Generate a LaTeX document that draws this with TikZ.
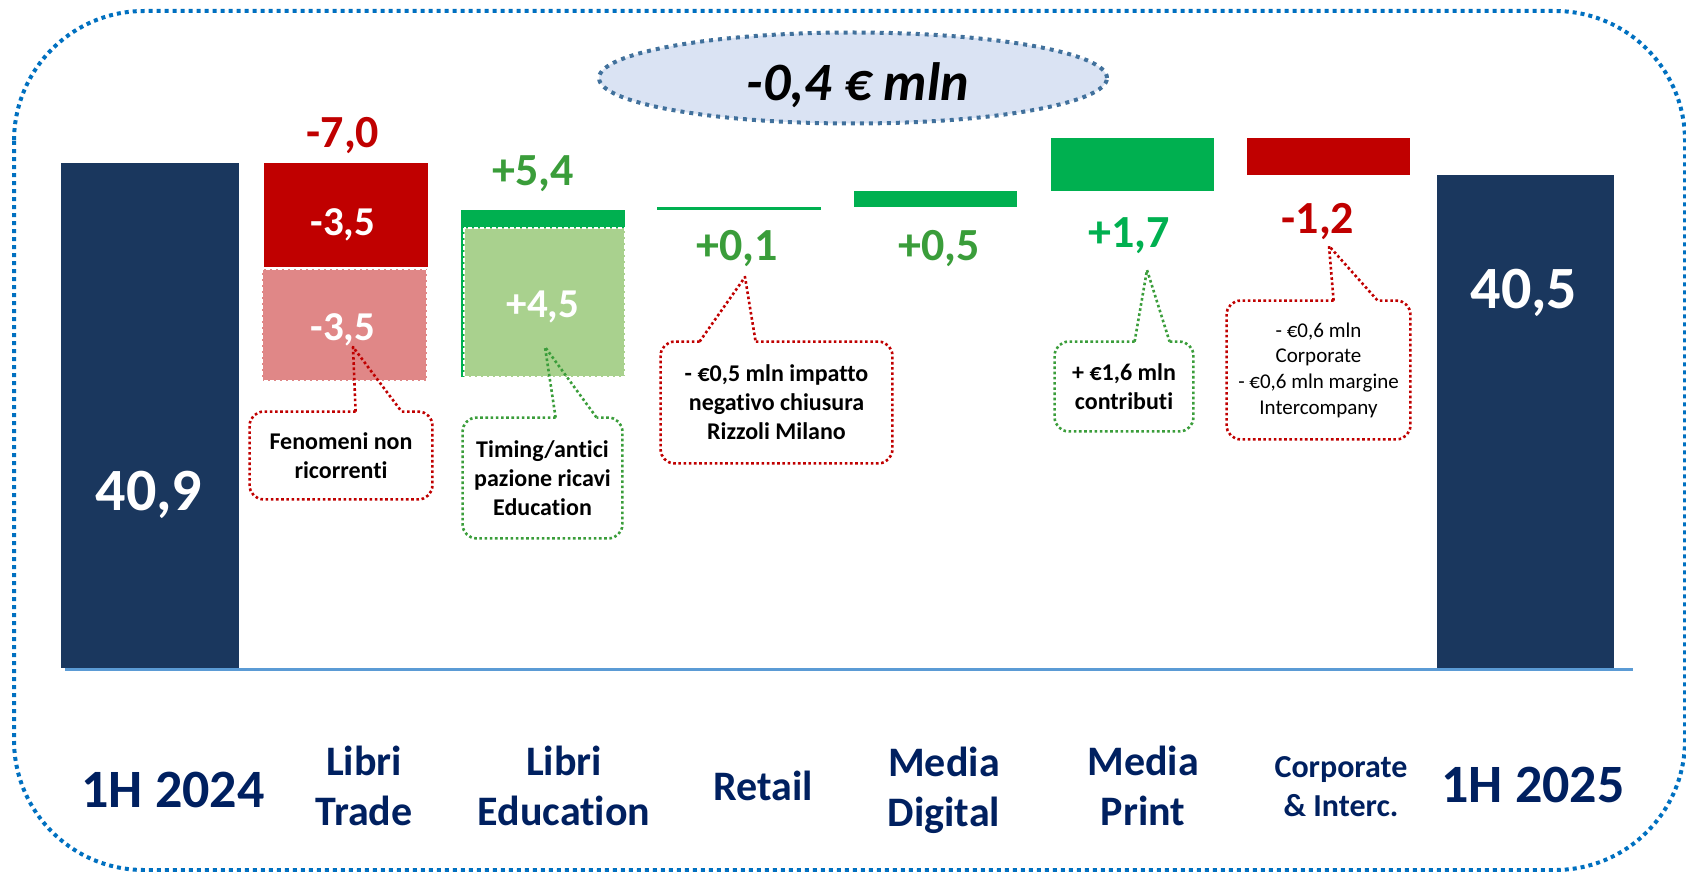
\documentclass[tikz,border=0pt]{standalone}
\usepackage{fontspec}
\setmainfont{Carlito}[Ligatures=NoCommon]
\usetikzlibrary{calc,shapes.geometric}
\definecolor{navy}{HTML}{1A375E}
\definecolor{rosso}{HTML}{C00000}
\definecolor{rosa}{HTML}{E08787}
\definecolor{verde}{HTML}{00B050}
\definecolor{verdechiaro}{HTML}{A9D18E}
\definecolor{verdetesto}{HTML}{3A9D3A}
\definecolor{blu}{HTML}{0070C0}
\definecolor{asse}{HTML}{5B9BD5}
\definecolor{ellbordo}{HTML}{41719C}
\definecolor{ellfondo}{HTML}{DAE3F3}
\definecolor{etichetta}{HTML}{002060}
\begin{document}
\begin{tikzpicture}[x=0.5pt,y=-0.5pt, font=\bfseries, line join=round,
	val/.style={font=\fontsize{23}{27}\selectfont\bfseries, anchor=base},
	big/.style={val, text=white, font=\fontsize{30}{36}\selectfont\bfseries},
	inbar/.style={val, text=white, font=\fontsize{20.5}{24}\selectfont\bfseries},
	cat/.style={font=\fontsize{21}{25}\selectfont\bfseries, text=etichetta, align=center},
	note/.style={font=\fontsize{12}{14.5}\selectfont\bfseries, align=center, inner sep=0pt},
	dotred/.style={draw=rosso, line width=1.3pt, dash pattern=on 1.3pt off 1.3pt},
	dotgreen/.style={dotred, draw=verdetesto},
	wdash/.style={draw=white, line width=1pt, dash pattern=on 2pt off 1pt}]
	\def\base{668} % linea di base
	\useasboundingbox (0,0) rectangle (1686,872);
	\draw[blu, line width=2pt, dash pattern=on 2pt off 2pt, rounded corners=65pt] (14,11) rectangle (1685,870);
	\node[ellipse, draw=ellbordo, fill=ellfondo, line width=2pt, dash pattern=on 2pt off 2.5pt, inner sep=0pt, minimum width=254pt, minimum height=45.5pt] (ovale) at (853,78) {};
	\node[anchor=base, font=\fontsize{27}{32}\selectfont\bfseries\itshape] (delta) at (858,101) {-0,4 € mln};
	% barre
	\fill[navy] (61,163) rectangle (239,\base);
	\fill[rosso] (264,163) rectangle (428,267);
	\draw[fill=rosa, wdash] (262,269) rectangle (427,381);
	\fill[verde] (461,210) rectangle (625,377);
	\draw[fill=verdechiaro, wdash] (464,228) rectangle (625,377);
	\fill[verde] (657,207) rectangle (821,210);
	\fill[verde] (854,191) rectangle (1017,207);
	\fill[verde] (1051,138) rectangle (1214,191);
	\fill[rosso] (1247,138) rectangle (1410,175);
	\fill[navy] (1437,175) rectangle (1614,\base);
	\draw[asse, line width=1.5pt] (65,\base+1) -- (1633,\base+1);
	% valori
	\node[big] (v24) at (149,510) {40,9};
	\node[val, text=rosso] (vtrade) at (343,148) {-7,0};
	\node[inbar] (nr1) at (343,235) {-3,5};
	\node[inbar] (nr2) at (343,340) {-3,5};
	\node[val, text=verdetesto] (vedu) at (533,185) {+5,4};
	\node[inbar] (ant) at (543,317) {+4,5};
	\node[val, text=verdetesto] (vret) at (737,260) {+0,1};
	\node[val, text=verdetesto] (vdig) at (939,260) {+0,5};
	\node[val, text=verde] (vprint) at (1129,247) {+1,7};
	\node[val, text=rosso] (vcorp) at (1318,233) {-1,2};
	\node[big] (v25) at (1524,308) {40,5};
	% categorie
	\node[cat, font=\fontsize{27}{32}\selectfont\bfseries] (c24) at (173,790) {1H 2024};
	\node[cat] (ctrade) at (364,786) {Libri\\Trade};
	\node[cat] (cedu) at (564,786) {Libri\\Education};
	\node[cat] (cret) at (763,786) {Retail};
	\node[cat] (cdig) at (944,790) {Media\\Digital};
	\node[cat] (cprint) at (1143,786) {Media\\Print};
	\node[cat, font=\fontsize{16}{19.5}\selectfont\bfseries] (ccorp) at (1341,787) {Corporate\\\& Interc.};
	\node[cat, font=\fontsize{27}{32}\selectfont\bfseries] (c25) at (1533,785) {1H 2025};
	% note
	\coordinate (tfen) at (353,347);
	\node[note, minimum width=91pt, minimum height=43.5pt] (fen) at (341,455.5) {Fenomeni non\\ricorrenti};
	\draw[dotred, rounded corners=7pt] ($(fen.north west)+(106,0)$) -- (fen.north west) -- (fen.south west) -- (fen.south east) -- (fen.north east) -- ($(fen.north west)+(152,0)$);
	\draw[dotred] ($(fen.north west)+(106,0)$) -- (tfen) -- ($(fen.north west)+(152,0)$);
	\coordinate (ttim) at (545,347);
	\node[note, minimum width=79.5pt, minimum height=60pt] (tim) at (542.5,478) {Timing/antici\\pazione ricavi\\Education};
	\draw[dotgreen, rounded corners=7pt] ($(tim.north west)+(93,0)$) -- (tim.north west) -- (tim.south west) -- (tim.south east) -- (tim.north east) -- ($(tim.north west)+(134,0)$);
	\draw[dotgreen] ($(tim.north west)+(93,0)$) -- (ttim) -- ($(tim.north west)+(134,0)$);
	\coordinate (tchi) at (745,277);
	\node[note, minimum width=115.5pt, minimum height=60.5pt] (chi) at (776.5,402.5) {- €0,5 mln impatto\\negativo chiusura\\Rizzoli Milano};
	\draw[dotred, rounded corners=7pt] ($(chi.north west)+(39,0)$) -- (chi.north west) -- (chi.south west) -- (chi.south east) -- (chi.north east) -- ($(chi.north west)+(95,0)$);
	\draw[dotred] ($(chi.north west)+(39,0)$) -- (tchi) -- ($(chi.north west)+(95,0)$);
	\coordinate (tcon) at (1147,270);
	\node[note, minimum width=69pt, minimum height=44.5pt] (con) at (1124,386.5) {+ €1,6 mln\\contributi};
	\draw[dotgreen, rounded corners=7pt] ($(con.north west)+(80,0)$) -- (con.north west) -- (con.south west) -- (con.south east) -- (con.north east) -- ($(con.north west)+(115,0)$);
	\draw[dotgreen] ($(con.north west)+(80,0)$) -- (tcon) -- ($(con.north west)+(115,0)$);
	\coordinate (tint) at (1329,246);
	\node[note, font=\fontsize{10.5}{12.8}\selectfont, minimum width=91.5pt, minimum height=69pt] (int) at (1318.5,370) {- €0,6 mln\\Corporate\\- €0,6 mln margine\\Intercompany};
	\draw[dotred, rounded corners=7pt] ($(int.north west)+(107,0)$) -- (int.north west) -- (int.south west) -- (int.south east) -- (int.north east) -- ($(int.north west)+(151,0)$);
	\draw[dotred] ($(int.north west)+(107,0)$) -- (tint) -- ($(int.north west)+(151,0)$);
\end{tikzpicture}
\end{document}
